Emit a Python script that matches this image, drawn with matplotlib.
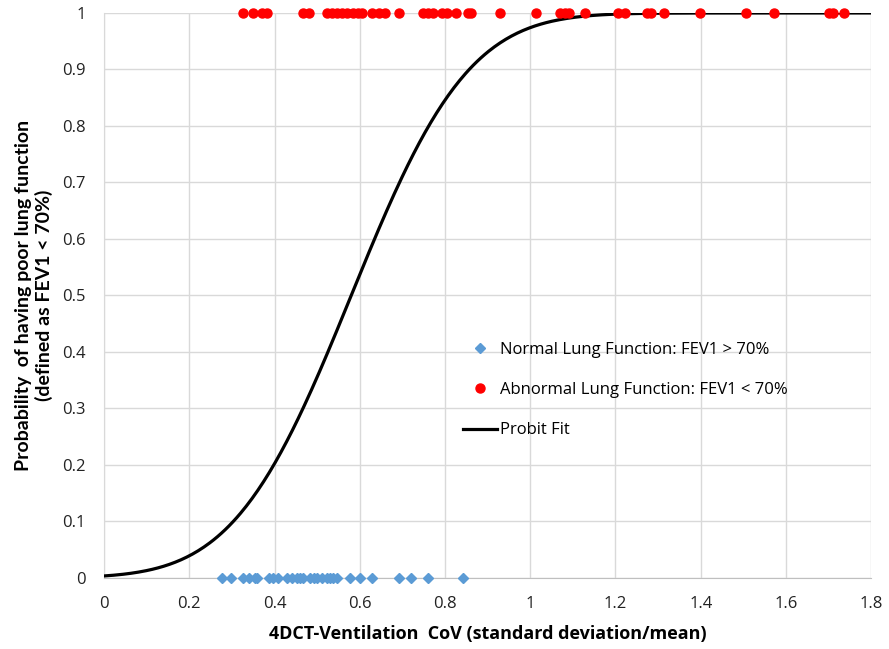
import math
import numpy as np
import matplotlib
matplotlib.use("Agg")
import matplotlib.pyplot as plt
from matplotlib.ticker import FuncFormatter, MultipleLocator

plt.rcParams['font.family'] = ['Open Sans', 'DejaVu Sans']

# Abnormal lung function cases (outcome = 1)
abnormal_cov = [0.326, 0.350, 0.370, 0.382, 0.467, 0.481, 0.523, 0.534, 0.546, 0.558,
                0.570, 0.584, 0.596, 0.605, 0.628, 0.646, 0.660, 0.693, 0.749, 0.761,
                0.772, 0.793, 0.804, 0.826, 0.853, 0.861, 0.928, 1.014, 1.070, 1.081,
                1.092, 1.129, 1.207, 1.223, 1.274, 1.283, 1.313, 1.399, 1.507, 1.573,
                1.700, 1.710, 1.735]
# Normal lung function cases (outcome = 0)
normal_cov = [0.276, 0.297, 0.327, 0.341, 0.354, 0.360, 0.386, 0.397, 0.409, 0.429,
              0.441, 0.452, 0.460, 0.467, 0.484, 0.492, 0.499, 0.511, 0.523, 0.530,
              0.538, 0.546, 0.577, 0.601, 0.628, 0.691, 0.721, 0.759, 0.842]

# Probit fit parameters (mean and sd of the latent normal)
probit_mu = 0.58
probit_sigma = 0.216

labels = ["Normal Lung Function: FEV1 > 70%",
          "Abnormal Lung Function: FEV1 < 70%",
          "Probit Fit"]

fig = plt.figure(figsize=(8.89, 6.49), dpi=100)
ax = fig.add_axes([0.117, 0.1094, 0.863, 0.8706])

xs = np.linspace(0, 1.8, 400)
ys = np.array([0.5 * (1 + math.erf((x - probit_mu) / (probit_sigma * math.sqrt(2)))) for x in xs])

ax.plot(normal_cov, [0] * len(normal_cov), linestyle='none', marker='D', markersize=5.2,
        color='#5B9BD5', clip_on=False, zorder=4, label=labels[0])
ax.plot(abnormal_cov, [1] * len(abnormal_cov), linestyle='none', marker='o', markersize=6.5,
        color='#FF0000', clip_on=False, zorder=4, label=labels[1])
ax.plot(xs, ys, color='black', linewidth=2.3, zorder=3, label=labels[2])

ax.set_xlim(0, 1.8)
ax.set_ylim(0, 1)
ax.xaxis.set_major_locator(MultipleLocator(0.2))
ax.yaxis.set_major_locator(MultipleLocator(0.1))
fmt = FuncFormatter(lambda v, p: f"{round(v, 2):g}")
ax.xaxis.set_major_formatter(fmt)
ax.yaxis.set_major_formatter(fmt)
ax.grid(True, color='#d9d9d9', linewidth=1.0, zorder=0)
ax.set_axisbelow(True)
for s in ['top', 'right']:
    ax.spines[s].set_visible(False)
ax.spines['left'].set_color('#d9d9d9')
ax.spines['bottom'].set_color('#bfbfbf')
ax.tick_params(axis='both', length=0, labelsize=12, colors='#222222')
ax.tick_params(axis='y', pad=13)
ax.tick_params(axis='x', pad=13)

ax.set_xlabel("4DCT-Ventilation  CoV (standard deviation/mean)", fontsize=13,
              fontweight='bold', labelpad=9)
ax.set_ylabel("Probability  of having poor lung function\n(defined as FEV1 < 70%)",
              fontsize=14, fontweight='bold', linespacing=1.25, family=['Lato', 'DejaVu Sans'])
ax.yaxis.set_label_coords(-0.066, 0.5)

ax.legend(loc='upper left', bbox_to_anchor=(0.449, 0.444), frameon=False,
          fontsize=12, labelspacing=1.45, handlelength=2.0, handletextpad=0.2,
          markerscale=1.0)

fig.savefig("out.png", dpi=100, facecolor='white')
